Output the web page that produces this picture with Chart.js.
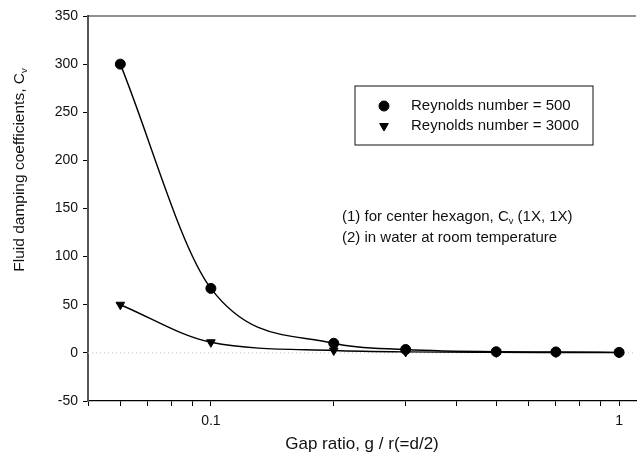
<!DOCTYPE html>
<html>
<head>
<meta charset="utf-8">
<script src="https://cdn.jsdelivr.net/npm/chart.js@4.4.1/dist/chart.umd.min.js"></script>
<style>
  html, body { margin: 0; padding: 0; background: #fff; }
  #wrap { width: 642px; height: 462px; }
</style>
</head>
<body>
<div id="wrap"><canvas id="dampingChart" width="642" height="462"></canvas></div>
<script>
// gap ratio g/r at which the damping was measured
const gapRatios = [0.06, 0.1, 0.2, 0.3, 0.5, 0.7, 1.0];
// fluid damping coefficient Cv for each Reynolds number
const cvRe500 = [300, 67, 10, 3.5, 1.2, 1.0, 0.5];
const cvRe3000 = [50, 11, 2.5, 1.0, 0.5, 0.4, 0.3];
const seriesLabels = ['Reynolds number = 500', 'Reynolds number = 3000'];

// tick marks on the log axis, only a few of them get a label
const xTickValues = [0.05, 0.06, 0.07, 0.08, 0.09, 0.1, 0.2, 0.3, 0.4, 0.5, 0.6, 0.7, 0.8, 0.9, 1];
const xTickLabels = { 0.1: '0.1', 1: '1' };

// note lines, split where the subscript goes
const noteLines = [
    ['(1) for center hexagon, C', 'v', ' (1X, 1X)'],
    ['(2) in water at room temperature']
];
const yTitle = ['Fluid damping coefficients, C', 'v'];

const FONT = '"Liberation Sans", Arial, Helvetica, sans-serif';
const INK = '#111';

// Function to write text with an optional subscript part
function drawSubText(ctx, parts, x, y, size) {
    let cx = x;
    parts.forEach((part, i) => {
        const isSub = i === 1;
        ctx.font = (isSub ? size * 0.62 : size) + 'px ' + FONT;
        ctx.fillText(part, cx, isSub ? y + size * 0.28 : y);
        cx += ctx.measureText(part).width;
    });
}

// Plugin for the frame, the dotted zero line, the y title, legend box and notes
const extrasPlugin = {
    id: 'extras',
    beforeDatasetsDraw(chart) {
        const { ctx, chartArea: a, scales } = chart;
        const y0 = scales.y.getPixelForValue(0);
        ctx.save();
        ctx.strokeStyle = '#c4c4c4';
        ctx.lineWidth = 1;
        ctx.setLineDash([1, 3]);
        ctx.beginPath();
        ctx.moveTo(a.left, y0);
        ctx.lineTo(a.right, y0);
        ctx.stroke();
        ctx.restore();
    },
    afterDraw(chart) {
        const { ctx, chartArea: a } = chart;
        ctx.save();

        // top frame line
        ctx.strokeStyle = '#222';
        ctx.lineWidth = 1.2;
        ctx.beginPath();
        ctx.moveTo(a.left, a.top);
        ctx.lineTo(a.right, a.top);
        ctx.stroke();

        ctx.fillStyle = INK;
        ctx.textBaseline = 'middle';
        ctx.textAlign = 'left';

        // y axis title, rotated, with subscript v
        ctx.save();
        ctx.font = '15.5px ' + FONT;
        const w = ctx.measureText(yTitle[0]).width;
        ctx.font = (15.5 * 0.62) + 'px ' + FONT;
        const wSub = ctx.measureText(yTitle[1]).width;
        ctx.translate(20, 170);
        ctx.rotate(-Math.PI / 2);
        drawSubText(ctx, yTitle, -(w + wSub) / 2, 0, 15.5);
        ctx.restore();

        // legend box
        const bx = a.left + 267, by = a.top + 70, bw = 238, bh = 59;
        ctx.strokeStyle = '#111';
        ctx.lineWidth = 1;
        ctx.strokeRect(bx, by, bw, bh);
        chart.data.datasets.forEach((ds, i) => {
            const my = by + 20 + i * 20;
            ctx.fillStyle = '#000';
            ctx.strokeStyle = '#000';
            ctx.lineWidth = 1;
            Chart.helpers.drawPoint(ctx, {
                pointStyle: ds.pointStyle,
                rotation: ds.pointRotation || 0,
                radius: ds.pointRadius,
                borderWidth: 1
            }, bx + 29, my);
            ctx.fillStyle = INK;
            ctx.font = '15px ' + FONT;
            ctx.fillText(ds.label, bx + 56, my);
        });

        // notes under the legend
        ctx.fillStyle = INK;
        noteLines.forEach((line, i) => {
            drawSubText(ctx, line, a.left + 254, a.top + 201 + i * 21, 15);
        });

        ctx.restore();
    }
};

// Function to render the chart
function renderDampingChart() {
    const ctx = document.getElementById('dampingChart').getContext('2d');

    new Chart(ctx, {
        type: 'line',
        data: {
            datasets: [
                {
                    label: seriesLabels[0],
                    data: gapRatios.map((g, i) => ({ x: g, y: cvRe500[i] })),
                    borderColor: '#000',
                    backgroundColor: '#000',
                    borderWidth: 1.4,
                    pointStyle: 'circle',
                    pointRadius: 5,
                    pointBorderWidth: 1,
                    pointBackgroundColor: '#000',
                    pointBorderColor: '#000',
                    cubicInterpolationMode: 'monotone',
                    fill: false
                },
                {
                    label: seriesLabels[1],
                    data: gapRatios.map((g, i) => ({ x: g, y: cvRe3000[i] })),
                    borderColor: '#000',
                    backgroundColor: '#000',
                    borderWidth: 1.4,
                    pointStyle: 'triangle',
                    pointRotation: 180,
                    pointRadius: 5,
                    pointBorderWidth: 1,
                    pointBackgroundColor: '#000',
                    pointBorderColor: '#000',
                    cubicInterpolationMode: 'monotone',
                    fill: false
                }
            ]
        },
        options: {
            responsive: false,
            animation: false,
            layout: { padding: { top: 16, right: 0, left: 0, bottom: 0 } },
            plugins: {
                legend: { display: false },
                tooltip: { enabled: false }
            },
            scales: {
                x: {
                    type: 'logarithmic',
                    min: 0.05,
                    max: 1.1,
                    afterBuildTicks: scale => {
                        scale.ticks = xTickValues.map(v => ({ value: v }));
                    },
                    afterFit: scale => { scale.height = 61; },
                    ticks: {
                        autoSkip: false,
                        maxRotation: 0,
                        padding: 7,
                        color: INK,
                        font: { family: FONT, size: 14 },
                        callback: value => xTickLabels[value] || ''
                    },
                    grid: {
                        drawOnChartArea: false,
                        drawTicks: true,
                        tickLength: 5,
                        tickColor: '#000',
                        color: '#000'
                    },
                    border: { color: '#000', width: 1.3 },
                    title: {
                        display: true,
                        text: 'Gap ratio, g / r(=d/2)',
                        color: INK,
                        font: { family: FONT, size: 17 },
                        padding: { top: 0, bottom: 7 }
                    }
                },
                y: {
                    min: -50,
                    max: 350,
                    afterFit: scale => { scale.width = 88; },
                    ticks: {
                        stepSize: 50,
                        padding: 5,
                        color: INK,
                        font: { family: FONT, size: 14 }
                    },
                    grid: {
                        drawOnChartArea: false,
                        drawTicks: true,
                        tickLength: 5,
                        tickColor: '#000',
                        color: '#000'
                    },
                    border: { color: '#555', width: 2 }
                }
            }
        },
        plugins: [extrasPlugin]
    });
}

renderDampingChart();
</script>
</body>
</html>
